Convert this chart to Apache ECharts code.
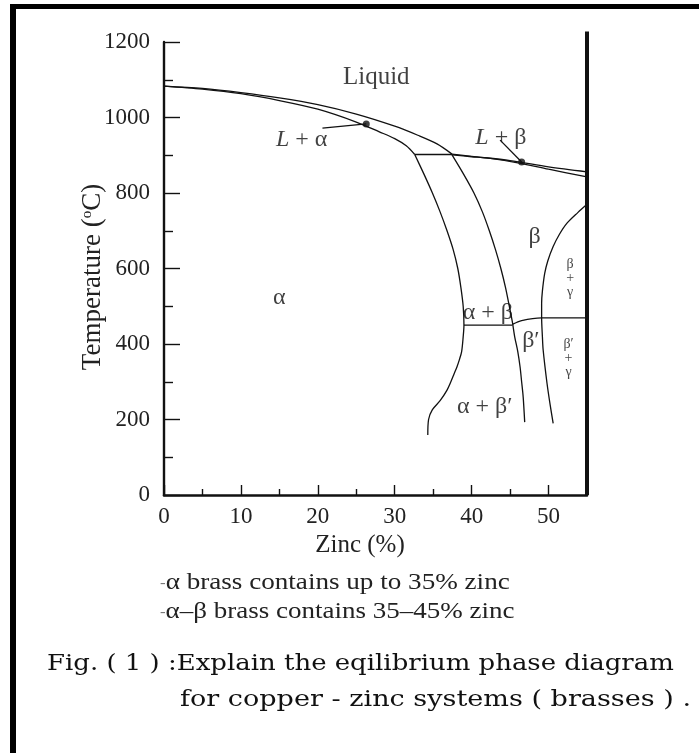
<!DOCTYPE html>
<html>
<head>
<meta charset="utf-8">
<script src="https://cdn.jsdelivr.net/npm/echarts@6/dist/echarts.min.js"></script>
<style>
  html, body { margin: 0; padding: 0; background: #ffffff; }
  #chart { width: 699px; height: 753px; }
</style>
</head>
<body>
<div id="chart"></div>
<script>
// Cu–Zn equilibrium phase boundaries: [zinc %, temperature °C]
const alphaLiquidus = [[0,1083],[5,1077],[10,1066],[15,1052],[20,1034],[25,1009],[30,977],[33,953],[35.5,930],[37.45,903]];
const alphaSolidus  = [[0,1083],[5,1075],[10,1063],[15,1045],[20,1022],[25,988],[28,962],[30,944],[31.5,925],[32.6,902]];
const peritectic    = [[32.6,902],[37.45,902]];
const betaLiquidus  = [[37.45,903],[40,897],[45,886],[50,869],[55,856]];
const betaSolidus   = [[37.45,901],[40,896],[42,893],[46,880],[50,863],[55,843]];
const alphaSolvus   = [[32.6,902],[33.8,850],[34.9,800],[35.9,750],[36.8,700],[37.6,650],[38.2,600],[38.6,550],[38.9,500],[39.0,450],[38.9,419],[38.7,380],[38.4,358],[38.1,340],[37.7,320],[37.3,300],[36.8,278],[35.9,250],[34.9,226],[34.4,200],[34.3,159]];
const betaBoundary  = [[37.45,901],[38.95,850],[40.3,800],[41.4,750],[42.3,700],[43.1,650],[43.8,600],[44.4,550],[44.9,500],[45.3,458],[45.6,419],[46.0,380],[46.3,339],[46.5,300],[46.7,260],[46.9,193]];
const eutectoid     = [[39.0,450],[45.3,450]];
const orderingLine  = [[45.3,452],[46.5,462],[49.1,469],[55,469]];
const gammaBoundary = [[55,770],[53.8,748],[52.4,720],[51.4,690],[50.6,658],[49.9,620],[49.5,587],[49.2,540],[49.1,508],[49.1,470],[49.2,420],[49.3,384],[49.8,296],[50.2,240],[50.6,190]];
const rightFrame    = [[55,0],[55,1228]];

// leader lines and their end dots
const leaderAlpha = [[20.6,972],[26.3,983]];
const leaderBeta  = [[43.7,940],[46.5,882]];
const leaderDots  = [[26.3,983],[46.5,882]];

// axis ticks
const zincTicks = [0,10,20,30,40,50];
const tempTicks = [0,200,400,600,800,1000,1200];

// phase region names and where they sit
const phaseNames   = ['Liquid','{i|L} + α','{i|L} + β','β','α','α + β','β′','β\n+\nγ','β′\n+\nγ','α + β′'];
const phaseAnchors = [[27.6,1107],[17.9,940],[43.8,946],[48.2,683],[15.0,522],[42.1,482],[47.7,408],[52.8,575],[52.6,363],[41.7,233]];
const smallNames = new Set(['β\n+\nγ','β′\n+\nγ']);

const SERIF = '"Liberation Serif", "Times New Roman", serif';
const SLAB = '"DejaVu Serif", serif';
const INK = '#111';

const chart = echarts.init(document.getElementById('chart'), null, { renderer: 'canvas' });

function boundary(data, smooth, width) {
  return {
    type: 'line', data, smooth: smooth ? 0.3 : false,
    symbol: 'none', silent: true, clip: false,
    lineStyle: { color: INK, width: width || 1.3 }
  };
}

const labelData = phaseNames.map((n, i) => {
  const small = smallNames.has(n);
  return {
    name: n, value: phaseAnchors[i],
    label: small ? { fontSize: 14, lineHeight: 14 } : (n === 'Liquid' ? { fontSize: 25 } : {})
  };
});

const option = {
  animation: false,
  backgroundColor: '#ffffff',
  grid: { left: 164, right: 112, top: 42, bottom: 258, containLabel: false },
  xAxis: {
    type: 'value', min: 0, max: 55, interval: 10,
    axisLine: { show: true, lineStyle: { color: INK, width: 2.6 } },
    axisTick: { show: true, inside: true, length: 10, lineStyle: { color: INK, width: 1.4 } },
    minorTick: { show: true, splitNumber: 2, length: 6, lineStyle: { color: INK, width: 1.4 } },
    splitLine: { show: false },
    axisLabel: {
      margin: 10, color: '#222', fontFamily: SERIF, fontSize: 23,
      formatter: v => zincTicks.includes(v) ? String(v) : ''
    }
  },
  yAxis: {
    type: 'value', min: 0, max: 1200, interval: 200,
    axisLine: { show: true, lineStyle: { color: INK, width: 2.4 } },
    axisTick: { show: true, inside: true, length: 16, lineStyle: { color: INK, width: 1.4 } },
    minorTick: { show: true, splitNumber: 2, length: 9, lineStyle: { color: INK, width: 1.4 } },
    splitLine: { show: false },
    axisLabel: {
      margin: 14, color: '#222', fontFamily: SERIF, fontSize: 23,
      formatter: v => tempTicks.includes(v) ? String(v) : ''
    }
  },
  series: [
    boundary(alphaLiquidus, true),
    boundary(alphaSolidus, true),
    boundary(peritectic, false),
    boundary(betaLiquidus, true),
    boundary(betaSolidus, true),
    boundary(alphaSolvus, true),
    boundary(betaBoundary, true),
    boundary(eutectoid, false),
    boundary(orderingLine, true),
    boundary(gammaBoundary, true),
    boundary(rightFrame, false, 4),
    boundary(leaderAlpha, false, 1.3),
    boundary(leaderBeta, false, 1.3),
    {
      type: 'scatter', data: leaderDots, symbol: 'circle', symbolSize: 7, silent: true,
      itemStyle: { color: INK }
    },
    {
      type: 'scatter', data: labelData, symbolSize: 1, silent: true,
      itemStyle: { color: 'rgba(0,0,0,0)' },
      label: {
        show: true, position: 'inside', formatter: p => p.name,
        color: '#111', fontFamily: SERIF, fontSize: 24, align: 'center', verticalAlign: 'middle',
        rich: { i: { fontStyle: 'italic', fontFamily: SERIF, fontSize: 24, color: '#111' } }
      }
    }
  ],
  graphic: [
    // page frame
    { type: 'rect', shape: { x: 10, y: 4, width: 689, height: 5 }, style: { fill: '#000' } },
    { type: 'rect', shape: { x: 10, y: 4, width: 6, height: 749 }, style: { fill: '#000' } },
    // axis titles
    {
      type: 'text', x: 93, y: 277, rotation: Math.PI / 2,
      style: {
        text: 'Temperature ({s|o}C)', fill: '#222', font: '27px ' + SERIF,
        align: 'center', verticalAlign: 'middle',
        rich: { s: { fontSize: 15, fontFamily: SERIF, verticalAlign: 'top', fill: '#222' } }
      }
    },
    {
      type: 'text', x: 360, y: 545,
      style: { text: 'Zinc (%)', fill: '#222', font: '25px ' + SERIF, align: 'center', verticalAlign: 'middle' }
    },
    // notes under the diagram
    {
      type: 'text', x: 160, y: 583, scaleX: 1.13,
      style: {
        text: '{d|-}α brass contains up to 35% zinc', fill: '#222', font: '24px ' + SERIF, verticalAlign: 'middle',
        rich: { d: { fontSize: 15, fontFamily: SERIF, fill: '#777' } }
      }
    },
    {
      type: 'text', x: 160, y: 612, scaleX: 1.125,
      style: {
        text: '{d|-}α–β brass contains 35–45% zinc', fill: '#222', font: '24px ' + SERIF, verticalAlign: 'middle',
        rich: { d: { fontSize: 15, fontFamily: SERIF, fill: '#777' } }
      }
    },
    // caption
    {
      type: 'text', x: 47, y: 664, scaleX: 1.18,
      style: { text: 'Fig. ( 1 ) :Explain the eqilibrium phase diagram', fill: '#111', font: '22px ' + SLAB, verticalAlign: 'middle' }
    },
    {
      type: 'text', x: 180, y: 700, scaleX: 1.23,
      style: { text: 'for copper - zinc systems ( brasses ) .', fill: '#111', font: '22px ' + SLAB, verticalAlign: 'middle' }
    }
  ]
};

chart.setOption(option);
</script>
</body>
</html>
